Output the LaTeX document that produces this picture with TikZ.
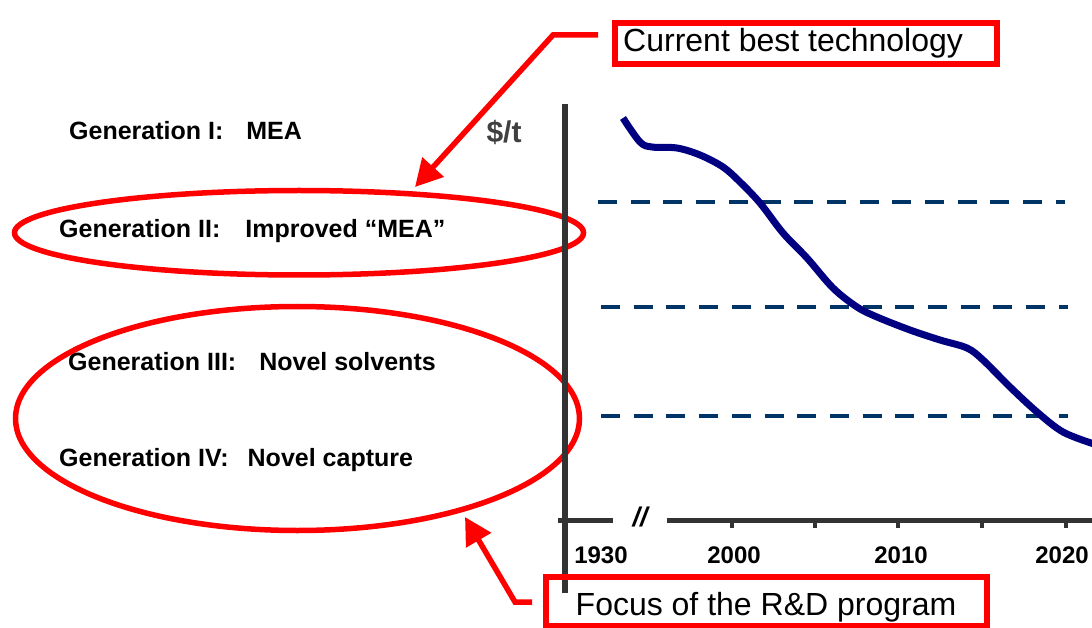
\documentclass[tikz,border=0pt]{standalone}
\usepackage{fontspec}
\setmainfont{Liberation Sans}
\usetikzlibrary{arrows.meta,shapes.geometric}
\definecolor{cred}{RGB}{255,0,0}
\definecolor{cnavy}{RGB}{0,0,128}
\definecolor{cdash}{RGB}{0,51,102}
\definecolor{caxis}{RGB}{51,51,51}
\definecolor{clabel}{RGB}{64,64,64}
\begin{document}
\begin{tikzpicture}[x=1pt,y=-1pt,
  gen/.style={font=\fontsize{25}{30}\selectfont\bfseries, anchor=base west, inner sep=0pt},
  year/.style={font=\fontsize{24}{28}\selectfont\bfseries, anchor=base, inner sep=0pt},
  boxtext/.style={font=\fontsize{32}{38}\selectfont, anchor=base west, inner sep=0pt},
  redbox/.style={draw=cred, line width=6pt, inner sep=0pt},
  redring/.style={ellipse, draw=cred, line width=5.5pt, inner sep=0pt},
  redarrow/.style={draw=cred, line width=5.5pt, -{Triangle[length=27pt,width=28pt]}},
  axisline/.style={draw=caxis, line width=5.5pt},
  tickline/.style={draw=caxis, line width=4.5pt},
  levelline/.style={draw=cdash, line width=4.5pt, dash pattern=on 19pt off 13.7pt},
  costcurve/.style={draw=cnavy, line width=7pt}
]
\useasboundingbox (0,0) rectangle (1092,628);

% generation labels
\node[gen] (g1) at (69,140) {Generation I:\hspace{23pt}MEA};
\node[gen] (g2) at (59,238) {Generation II:\hspace{25pt}Improved “MEA”};
\node[gen] (g3) at (68,370) {Generation III:\hspace{23pt}Novel solvents};
\node[gen] (g4) at (59,466) {Generation IV:\hspace{19pt}Novel capture};

% ellipses
\node[redring, minimum width=569pt, minimum height=84.5pt] (e1) at (299,232.75) {};
\node[redring, minimum width=564pt, minimum height=224pt] (e2) at (297.5,418.5) {};

% axes
\coordinate (ytop) at (565,104);
\coordinate (ybot) at (565,593);
\draw[axisline] (ytop) -- (ybot);
\coordinate (xa) at (558,520.5);
\coordinate (xb) at (613,520.5);
\coordinate (xc) at (667,520.5);
\coordinate (xd) at (1094,520.5);
\draw[axisline] (xa) -- (xb);
\draw[axisline] (xc) -- (xd);
\foreach \tx in {732,815,898,982,1066}
  \draw[tickline] (\tx,520) -- (\tx,528);
\node[font=\fontsize{27}{30}\selectfont\bfseries\itshape, inner sep=0pt] (brk) at (640,517) {//};
\node[font=\fontsize{30}{34}\selectfont\bfseries, text=clabel, inner sep=0pt] (unit) at (504,132) {\$/t};

% years
\node[year] (y1930) at (601,563) {1930};
\node[year] (y2000) at (734,563) {2000};
\node[year] (y2010) at (901,563) {2010};
\node[year] (y2020) at (1062,563) {2020};

% dashed levels
\draw[levelline] (598,202) -- (1065,202);
\draw[levelline] (601,307) -- (1068,307);
\draw[levelline] (601,416) -- (1068,416);

% cost curve
\draw[costcurve] plot[smooth, tension=0.55] coordinates {
  (623,118) (640,142) (652,147) (677,148) (700,155) (723,167) (740,182)
  (760,203) (783,233) (807,258) (833,288) (857,307) (877,317) (910,330)
  (940,340) (967,348) (983,360) (1010,387) (1037,412) (1063,432) (1094,444)};

% boxes
\node[redbox, minimum width=382pt, minimum height=41pt] (cbt) at (805.5,44) {};
\node[boxtext] (cbttext) at (623,52) {Current best technology};
\node[redbox, minimum width=441.5pt, minimum height=49.25pt] (focus) at (766.5,601.4) {};
\node[boxtext] (focustext) at (575.5,615) {Focus of the R\&D program};

% connectors
\coordinate (a1s) at (598,35);
\coordinate (a1b) at (553,35);
\coordinate (a1t) at (415,187);
\draw[redarrow] (a1s) -- (a1b) -- (a1t);
\coordinate (a2s) at (532,602);
\coordinate (a2b) at (515,602);
\coordinate (a2t) at (465,517);
\draw[redarrow] (a2s) -- (a2b) -- (a2t);
\end{tikzpicture}
\end{document}
